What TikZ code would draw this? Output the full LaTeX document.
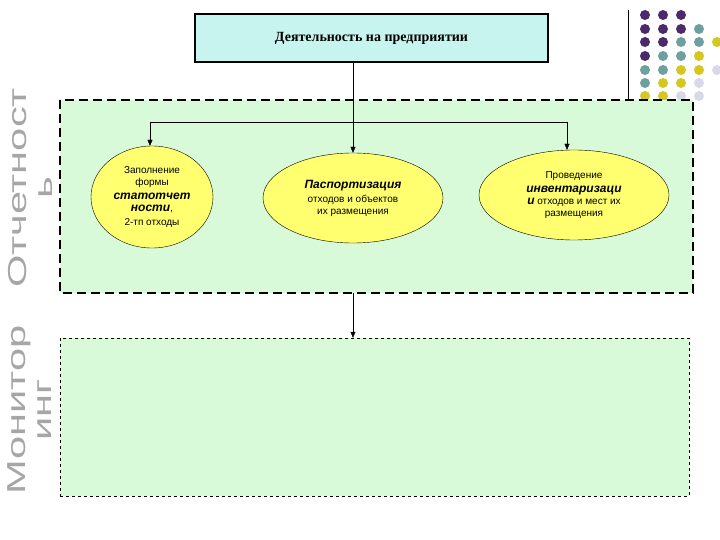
\documentclass[tikz,border=0pt]{standalone}
\usepackage{fontspec}
\setmainfont{Liberation Sans}
\newfontfamily\serifb{Liberation Serif}
\usetikzlibrary{arrows.meta,shapes.geometric}
\definecolor{pur}{HTML}{4B2A6E}
\definecolor{tea}{HTML}{6FA0A0}
\definecolor{yel}{HTML}{D4C820}
\definecolor{lgr}{HTML}{D8D8E8}
\definecolor{grn}{HTML}{D8FAD8}
\definecolor{cya}{HTML}{C8F4F0}
\definecolor{ell}{HTML}{FFFF70}
\begin{document}
\begin{tikzpicture}[x=1pt,y=-1pt,
 ov/.style={draw,fill=ell,ellipse,align=center,font=\fontsize{10}{12}\selectfont},
 arr/.style={-{Triangle[length=6pt,width=5pt]}},
 side/.style={rotate=90,font=\fontsize{26}{26}\selectfont,text=gray!70,align=center}]
\useasboundingbox (0,0) rectangle (720,540);
\fill[white] (0,0) rectangle (720,540);
\draw[line width=0.8pt] (628,10) -- (628,100);
\foreach \r/\cols in {15/{pur,pur,pur},29/{pur,pur,pur,tea},42/{pur,pur,tea,tea,yel},56/{pur,tea,tea,yel},70/{tea,tea,yel,yel,lgr},83/{tea,yel,yel,lgr},96/{yel,yel,lgr,lgr}}{
 \foreach \c [count=\i from 0] in \cols { \fill[\c] (645+18*\i,\r) circle (5); } }
\node[draw,line width=1.5pt,fill=cya,minimum width=353pt,minimum height=48pt,font=\serifb\bfseries\fontsize{14}{16}\selectfont] (top) at (371.5,38) {Деятельность на предприятии};
\draw[fill=grn,line width=1.5pt,dash pattern=on 9pt off 5pt] (60,100) rectangle (693,293);
\node[draw,dashed,fill=grn,minimum width=629pt,minimum height=158pt] (b2) at (374.5,417) {};
\coordinate (j) at (353,122);
\draw (top.south -| j) -- (j);
\coordinate (jl) at (150,122); \coordinate (jr) at (567,122);
\draw (jl) -- (jr);
\node[ov,minimum width=122pt,minimum height=102pt,inner sep=0pt] (e1) at (152,197) {Заполнение\\формы\\[2pt]{\fontsize{12}{13}\selectfont\bfseries\itshape статотчет}\\{\fontsize{12}{13}\selectfont\bfseries\itshape ности},\\[2pt]2-тп отходы};
\node[ov,minimum width=180pt,minimum height=90pt,inner sep=0pt] (e2) at (353,198) {{\fontsize{12}{14}\selectfont\bfseries\itshape Паспортизация}\\[2pt]отходов и объектов\\их размещения};
\node[ov,minimum width=190pt,minimum height=90pt,inner sep=0pt] (e3) at (574,195) {Проведение\\[2pt]{\fontsize{12}{14}\selectfont\bfseries\itshape инвентаризаци}\\{\fontsize{12}{14}\selectfont\bfseries\itshape и} отходов и мест их\\размещения};
\draw[arr] (jl) -- (jl |- e1.north);
\draw[arr] (j) -- (e2.north);
\draw[arr] (jr) -- (jr |- e3.north);
\coordinate (m1) at (353,293);
\draw[arr] (m1) -- (b2.north -| m1);
\node[side] (t1) at (30,188) {\scalebox{1.6}[1]{Отчетност}\\\scalebox{1.6}[1]{ь}};
\node[side] (t2) at (30,410) {\scalebox{1.6}[1]{Монитор}\\\scalebox{1.6}[1]{инг}};
\end{tikzpicture}
\end{document}
